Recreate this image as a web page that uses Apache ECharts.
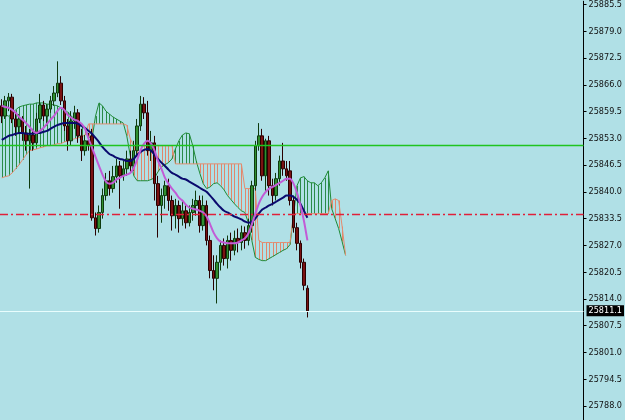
<!DOCTYPE html>
<html>
<head>
<meta charset="utf-8">
<script src="https://cdn.jsdelivr.net/npm/echarts@6/dist/echarts.min.js"></script>
<style>
html,body{margin:0;padding:0;background:#B0E0E6;}
#chart{width:625px;height:420px;}
</style>
</head>
<body>
<div id="chart"></div>
<script>
// ---- data ----
const categories = Array.from({length: 168}, (_, i) => String(i));

// [open, close, low, high]
const candles = [
[25860.9,25858.4,25856.7,25862.5],[25858.4,25862.1,25857.7,25863.3],[25862.1,25863.0,25859.6,25864.0],
[25863.0,25857.7,25856.7,25863.8],[25857.7,25855.8,25853.6,25859.2],[25855.8,25857.7,25854.3,25858.9],
[25857.7,25854.3,25852.4,25858.4],[25854.3,25852.4,25850.0,25856.0],[25852.4,25853.8,25840.8,25855.3],
[25853.8,25851.9,25850.0,25855.3],[25851.9,25857.7,25850.9,25859.2],[25857.7,25861.1,25856.7,25863.8],
[25861.1,25858.4,25857.2,25862.1],[25858.4,25860.1,25856.0,25861.3],[25860.1,25862.1,25859.2,25863.3],
[25862.1,25864.0,25860.9,25865.7],[25864.0,25866.4,25863.0,25871.7],[25866.4,25862.1,25861.1,25868.1],
[25862.1,25856.0,25854.8,25863.3],[25856.0,25852.4,25850.0,25857.7],[25852.4,25857.2,25851.2,25859.6],
[25857.2,25859.2,25855.3,25860.9],[25859.2,25853.6,25851.9,25860.1],[25853.6,25850.0,25847.5,25855.3],
[25850.0,25852.4,25848.8,25853.8],[25852.4,25851.2,25850.0,25854.3],[25853.6,25833.7,25833.0,25855.3],
[25833.7,25831.1,25829.4,25835.0],[25831.1,25835.0,25830.1,25836.7],[25835.0,25839.1,25833.5,25840.8],
[25839.1,25842.7,25837.9,25844.6],[25842.7,25840.8,25839.1,25845.1],[25840.8,25843.7,25839.8,25846.3],
[25843.7,25846.3,25842.2,25848.0],[25846.3,25843.9,25835.9,25847.5],[25843.9,25845.6,25842.7,25847.5],
[25845.6,25848.0,25843.9,25850.0],[25848.0,25846.3,25844.6,25850.0],[25846.3,25850.0,25845.1,25852.4],
[25850.0,25856.0,25848.8,25857.7],[25856.0,25861.3,25854.8,25863.3],[25861.3,25859.2,25857.7,25863.0],
[25859.2,25850.0,25848.8,25862.1],[25850.0,25851.9,25847.5,25854.8],[25851.9,25842.0,25837.9,25853.6],
[25842.0,25836.7,25828.9,25843.9],[25836.7,25839.1,25832.5,25840.8],[25839.1,25841.5,25835.9,25842.7],
[25841.5,25837.9,25835.4,25843.2],[25837.9,25834.2,25830.6,25839.1],[25834.2,25836.7,25831.1,25838.3],
[25836.7,25833.5,25830.1,25837.9],[25833.5,25835.4,25831.8,25837.9],[25835.4,25832.5,25831.1,25836.7],
[25832.5,25835.0,25831.6,25836.7],[25835.0,25836.7,25833.0,25838.3],[25836.7,25837.9,25834.2,25840.3],
[25837.9,25831.8,25830.1,25839.1],[25831.8,25836.7,25830.6,25839.1],[25836.7,25828.2,25827.0,25837.9],
[25828.2,25820.9,25819.0,25829.4],[25820.9,25819.0,25816.1,25824.6],[25819.0,25822.9,25812.9,25824.6],
[25822.9,25827.0,25820.9,25828.2],[25827.0,25823.8,25822.1,25828.7],[25823.8,25828.2,25821.4,25829.4],
[25828.2,25825.8,25823.3,25830.1],[25825.8,25828.7,25824.6,25830.6],[25828.7,25827.7,25825.3,25831.1],
[25827.7,25830.1,25825.8,25831.8],[25830.1,25828.2,25826.2,25831.6],[25828.2,25831.8,25827.0,25833.5],
[25831.8,25841.5,25830.1,25842.7],[25841.5,25851.2,25840.3,25852.4],[25851.2,25853.6,25850.0,25856.7],
[25853.6,25843.9,25842.7,25855.3],[25843.9,25852.4,25840.3,25852.9],[25852.4,25841.5,25839.1,25853.6],
[25841.5,25839.1,25836.7,25843.2],[25839.1,25843.2,25837.9,25844.6],[25843.2,25847.5,25841.5,25848.8],
[25847.5,25845.6,25843.9,25851.9],[25845.6,25843.9,25842.7,25847.5],[25845.1,25837.9,25836.7,25847.5],
[25837.9,25831.3,25830.1,25839.1],[25831.3,25827.5,25825.8,25832.5],[25827.5,25822.9,25821.4,25828.2],
[25822.9,25817.3,25816.1,25823.8],[25816.6,25811.1,25809.5,25817.3]
];

const maSlow = [
25852.6,25853.1,25853.6,25853.8,25854.1,25854.3,25854.3,25854.1,25854.1,25854.1,
25854.3,25854.3,25854.6,25854.8,25855.3,25855.8,25856.2,25856.5,25856.7,25856.7,
25856.7,25856.7,25856.5,25856.0,25855.5,25854.8,25854.1,25853.1,25852.1,25850.9,
25850.0,25849.2,25848.8,25848.3,25848.0,25847.8,25847.5,25847.5,25848.0,25849.0,
25849.7,25850.2,25850.4,25850.0,25849.0,25848.0,25847.1,25846.3,25845.4,25844.6,
25844.2,25843.7,25843.2,25843.0,25842.5,25842.0,25841.5,25841.0,25840.5,25840.0,
25839.1,25838.1,25837.1,25836.2,25835.4,25835.0,25834.5,25834.0,25833.7,25833.3,
25832.8,25832.5,25832.8,25833.5,25834.7,25835.7,25836.2,25836.7,25837.1,25837.6,
25838.1,25838.6,25839.1,25839.1,25838.8,25838.1,25837.1,25835.4,25833.7
];

const maFast = [
25860.9,25860.6,25860.4,25859.9,25859.2,25858.2,25857.5,25856.7,25855.8,25854.8,
25854.3,25854.8,25855.5,25856.5,25857.5,25858.4,25859.6,25860.4,25859.9,25858.7,
25858.0,25857.5,25857.2,25856.5,25855.3,25852.9,25850.7,25848.5,25846.3,25844.2,
25842.5,25842.0,25842.2,25843.0,25843.4,25843.9,25844.2,25844.6,25845.8,25847.8,
25850.2,25851.7,25852.4,25851.7,25850.0,25847.5,25845.6,25843.4,25842.0,25840.8,
25839.8,25838.6,25837.9,25836.9,25836.2,25835.9,25835.7,25835.4,25835.0,25834.0,
25832.1,25830.1,25828.7,25827.9,25827.7,25827.5,25827.5,25827.5,25827.7,25828.2,
25828.7,25829.9,25832.1,25834.7,25837.1,25838.8,25840.0,25840.8,25841.2,25841.7,
25842.2,25842.7,25843.2,25843.2,25842.0,25839.8,25836.7,25833.0,25828.2
];

const spanA = [
25859.2,25858.7,25858.4,25859.2,25859.9,25860.6,25860.9,25861.1,25861.3,25861.3,
25861.6,25861.6,25861.6,25861.3,25861.3,25861.1,25860.9,25860.4,25859.9,25859.4,
25858.4,25857.7,25857.0,25856.2,25855.5,25853.4,25852.9,25858.4,25861.6,25860.9,
25859.6,25858.9,25858.2,25857.7,25857.2,25856.7,25853.6,25848.8,25843.9,25842.7,
25842.7,25842.7,25842.7,25843.0,25843.4,25844.9,25846.1,25846.6,25847.1,25848.0,
25850.4,25852.4,25853.8,25854.3,25854.1,25851.2,25847.5,25844.6,25842.0,25840.8,
25841.2,25842.0,25842.2,25841.5,25840.5,25839.1,25838.1,25837.1,25836.2,25835.4,
25835.0,25832.5,25828.2,25824.1,25823.6,25823.3,25823.3,25823.8,25824.3,25824.8,
25825.3,25825.8,25826.2,25827.2,25834.2,25841.5,25843.4,25843.7,25842.7,25842.2,
25842.2,25841.5,25842.2,25843.4,25845.1,25835.9,25833.5,25831.1,25827.9,25824.6
];

const spanB = [
25843.4,25843.7,25843.9,25844.6,25845.6,25846.6,25847.8,25849.0,25850.0,25850.2,
25850.4,25850.7,25850.9,25851.2,25851.2,25851.4,25851.7,25851.7,25852.1,25852.4,
25852.6,25852.9,25853.1,25853.4,25853.8,25856.5,25856.5,25856.5,25856.5,25856.5,
25856.5,25856.5,25856.5,25856.5,25856.5,25856.5,25856.2,25852.9,25851.2,25851.2,
25851.2,25851.2,25851.2,25851.2,25851.2,25851.2,25851.2,25851.2,25851.2,25851.2,
25846.8,25846.8,25846.8,25846.8,25846.8,25846.8,25846.8,25846.8,25846.8,25846.8,
25846.8,25846.8,25846.8,25846.8,25846.8,25846.8,25846.8,25846.8,25846.8,25846.8,
25840.8,25840.8,25840.8,25840.8,25828.2,25827.7,25827.7,25827.7,25827.7,25827.7,
25827.7,25827.7,25827.7,25827.7,25834.7,25834.7,25834.7,25834.7,25834.7,25834.7,
25834.7,25834.7,25834.7,25834.7,25834.7,25837.9,25838.3,25837.9,25831.6,25824.6
];

const yTickValues = [25788.0,25794.5,25801.0,25807.5,25814.0,25820.5,25827.0,25833.5,25840.0,25846.5,25853.0,25859.5,25866.0,25872.5,25879.0,25885.5];
const levelGreen = [25851.4];
const levelRed = [25834.5];
const lastPrice = [25811.1];
const yMin = 25784.6, yMax = 25886.3;

// ---- chart ----
const chart = echarts.init(document.getElementById('chart'), null, {renderer: 'canvas'});
const cloudData = spanA.map((a, i) => [i, a, spanB[i]]);

function levelSeries(name, value, lineStyle, label) {
  return {
    type: 'line', name: name, data: [], z: 2, silent: true,
    markLine: {silent: true, symbol: ['none', 'none'], lineStyle: lineStyle,
      label: label || {show: false}, emphasis: {disabled: true},
      data: [{yAxis: value}]}
  };
}

chart.setOption({
  backgroundColor: '#B0E0E6',
  animation: false,
  grid: {left: 0, right: 38, top: 0, bottom: 0},
  xAxis: {type: 'category', data: categories, show: false, boundaryGap: true},
  yAxis: {
    type: 'value', position: 'right', min: yMin, max: yMax, scale: true,
    splitLine: {show: false},
    axisLine: {show: true, onZero: false, lineStyle: {color: '#000', width: 1}},
    axisTick: {show: true, inside: false, length: 3, lineStyle: {color: '#000'}, customValues: yTickValues},
    axisLabel: {
      show: true, margin: 5, color: '#111', fontSize: 9, fontFamily: 'DejaVu Sans Condensed, Liberation Sans',
      customValues: yTickValues,
      formatter: v => v.toFixed(1)
    }
  },
  series: [
    {
      type: 'custom', name: 'kumo', z: 1, silent: true,
      renderItem: (params, api) => {
        const i = api.value(0), a = api.value(1), b = api.value(2);
        const p1 = api.coord([i, a]), p2 = api.coord([i, b]);
        const x = Math.round(p1[0]) + 0.5;
        return {type: 'line', shape: {x1: x, y1: p1[1], x2: x, y2: p2[1]},
          style: {stroke: a >= b ? '#2A8A48' : '#E0876C', lineWidth: 1}};
      },
      encode: {x: 0, y: [1, 2]},
      data: cloudData
    },
    {type: 'line', name: 'spanA', data: spanA, showSymbol: false, z: 2, silent: true,
      lineStyle: {color: '#1F8A36', width: 1}},
    {type: 'line', name: 'spanB', data: spanB, showSymbol: false, z: 2, silent: true,
      lineStyle: {color: '#E58B6E', width: 1}},
    levelSeries('levelGreen', levelGreen[0], {color: '#1FC41F', type: 'solid', width: 1.4, opacity: 1}),
    levelSeries('levelRed', levelRed[0], {color: '#E0203A', type: [8, 3, 2, 3], width: 1.4, opacity: 1}),
    levelSeries('lastPrice', lastPrice[0], {color: '#E8FDFD', type: 'solid', width: 1.2, opacity: 1},
      {show: true, position: 'end', formatter: lastPrice[0].toFixed(1), backgroundColor: '#000', color: '#fff',
       padding: [1, 2, 1, 2], fontSize: 9, fontFamily: 'DejaVu Sans Condensed, Liberation Sans', distance: 3}),
    {
      type: 'candlestick', name: 'price', data: candles, barWidth: 3, z: 3,
      itemStyle: {color: '#2F8F2F', color0: '#7A1212', borderColor: '#0E3A0E', borderColor0: '#2A0000', borderWidth: 1}
    },
    {type: 'line', name: 'maSlow', data: maSlow, showSymbol: false, smooth: 0.3, z: 4, silent: true,
      lineStyle: {color: '#0A0A6E', width: 2}},
    {type: 'line', name: 'maFast', data: maFast, showSymbol: false, smooth: 0.3, z: 4, silent: true,
      lineStyle: {color: '#C25BD6', width: 2}}
  ]
});
</script>
</body>
</html>
